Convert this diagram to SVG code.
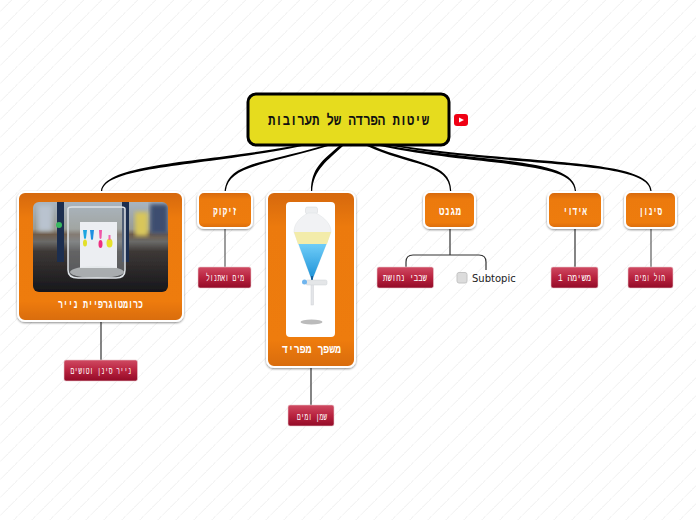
<svg xmlns="http://www.w3.org/2000/svg" width="696" height="520" viewBox="0 0 696 520">
<style>
.he{font-family:"Liberation Mono","DejaVu Sans Mono",monospace;text-anchor:middle;direction:rtl}
.o{fill:url(#og);stroke:#fff;stroke-width:2;filter:url(#sh)}
.r{fill:url(#rg);stroke:#e9c9cf;stroke-width:.6}
.ot{fill:#fff;font-size:12px;font-weight:bold}
.rt{fill:#fff;font-size:10px}
.c{fill:#000}
.l{stroke:#333;stroke-width:1.2;fill:none}
</style>
<defs>
<pattern id="bg" width="18" height="18" patternUnits="userSpaceOnUse">
<path d="M11.7 0L0 11.7M18 11.7L11.7 18" stroke="#e6e6e6" stroke-width="1" stroke-dasharray="1 .5"/>
</pattern>
<linearGradient id="og" x1="0" y1="0" x2="0" y2="1"><stop offset="0" stop-color="#d5680a"/><stop offset=".2" stop-color="#ec7a0c"/><stop offset=".85" stop-color="#ee7b0c"/><stop offset="1" stop-color="#d86c0a"/></linearGradient>
<linearGradient id="rg" x1="0" y1="0" x2="0" y2="1"><stop offset="0" stop-color="#cf4a62"/><stop offset=".5" stop-color="#b9233f"/><stop offset="1" stop-color="#930a27"/></linearGradient>
<linearGradient id="ph" x1="0" y1="0" x2="0" y2="1"><stop offset="0" stop-color="#a8b4c0"/><stop offset=".3" stop-color="#9a9c94"/><stop offset=".36" stop-color="#6e5c4c"/><stop offset=".44" stop-color="#6a6a68"/><stop offset=".55" stop-color="#3d3836"/><stop offset="1" stop-color="#17171b"/></linearGradient>
<linearGradient id="wat" x1="0" y1="0" x2="0" y2="1"><stop offset="0" stop-color="#6fcdf8"/><stop offset="1" stop-color="#1f93d8"/></linearGradient>
<filter id="sh" x="-20%" y="-20%" width="140%" height="140%"><feDropShadow dx="0" dy="1" stdDeviation="1.2" flood-color="#000" flood-opacity=".45"/></filter>
<filter id="bl"><feGaussianBlur stdDeviation="2"/></filter>
<filter id="bl1"><feGaussianBlur stdDeviation=".6"/></filter>
<filter id="bl2"><feGaussianBlur stdDeviation="1.200"/></filter>
<clipPath id="pc"><rect x="33" y="202" width="135" height="90" rx="6"/></clipPath>
</defs>
<rect width="696" height="520" fill="#fff"/>
<rect width="696" height="520" fill="url(#bg)"/>
<g id="connectors">
<path class="c" d="M293 146C200 163 105 163 101 191L102.200 191C106 166 200 167 302 146Z"/>
<path class="c" d="M322 146C260 164 228 163 224.600 191L225.800 191C229 166 262 166 328 146Z"/>
<path class="c" d="M339 146C323 160 311 168 311 191L312.200 191C313 170 328 160 343 146Z"/>
<path class="c" d="M367 146C410 166 449.500 163 450 191L451.200 191C451 162 415 164 373 146Z"/>
<path class="c" d="M380 146C480 167 574 160 574.800 191L576 191C575 158 490 163 390 146Z"/>
<path class="c" d="M392 146C520 168 649 160 650.400 191L651.600 191C650 158 530 165 402 146Z"/>
<path class="l" d="M101 322V360"/>
<path class="l" d="M225 229V267" stroke-opacity=".8"/>
<path class="l" d="M311 368V405"/>
<path class="l" d="M450 229V255M406 270V262Q406 255 413 255H479Q486 255 486 262V270"/>
<path class="l" d="M575 229V267"/>
<path class="l" d="M651 229V267" stroke-opacity=".8"/>
</g>
<g id="root">
<rect x="248" y="94" width="201" height="51" rx="8" fill="#e6dc1e" stroke="#000" stroke-width="3"/>
<text class="he" x="348.500" y="124.500" font-size="15" font-weight="bold" fill="#111" textLength="161" lengthAdjust="spacingAndGlyphs">שיטות הפרדה של תערובות</text>
</g>
<g id="youtube">
<rect x="454" y="114" width="14" height="12" rx="3" fill="#f00014"/>
<path d="M459 117.500L464 120L459 122.500Z" fill="#fff"/>
</g>
<g id="chrom">
<rect class="o" x="18" y="192" width="165" height="129" rx="7"/>
<g clip-path="url(#pc)">
<g filter="url(#bl1)">
<rect x="33" y="202" width="135" height="90" fill="url(#ph)"/>
<rect x="57" y="202" width="7" height="60" fill="#1f2f50"/>
<rect x="122" y="202" width="7" height="60" fill="#1f2f50"/>
<rect x="150" y="204" width="18" height="30" fill="#3c4e70" filter="url(#bl)"/>
<rect x="135" y="212" width="13" height="24" fill="#d8c65a" filter="url(#bl)"/>
<rect x="38" y="205" width="14" height="26" fill="#b9c3cf" filter="url(#bl)"/>
<circle cx="59" cy="225" r="3" fill="#38b860"/>
<path d="M68 209Q68 207 72 207H121Q125 207 125 209V270Q125 278 116 278H78Q68 278 68 270Z" fill="#aeb8be" fill-opacity=".35" stroke="#dfe4e8" stroke-width="1.500"/>
<rect x="80" y="222" width="37" height="46" fill="#eceef2"/>
<path d="M83 230h4l-1 8q-1 2-2 0z" fill="#1ea5e0"/><ellipse cx="85" cy="243" rx="2" ry="3.500" fill="#e2e02a"/>
<path d="M90 230h4l-1 9q-1 2-2 0z" fill="#1c8fe0"/>
<path d="M99 230h3l-.5 8q-1 2-2 0z" fill="#f054a8"/><ellipse cx="100.500" cy="244" rx="2" ry="4" fill="#ee2f80"/>
<ellipse cx="109.500" cy="243" rx="3" ry="4.500" fill="#e8e22c"/><path d="M108.500 235h2v5h-2z" fill="#f068b0"/>
<ellipse cx="97" cy="272" rx="27" ry="6" fill="#dfe4e6" fill-opacity=".6"/>
</g>
</g>
<text class="he ot" x="100.500" y="307.500" textLength="85" lengthAdjust="spacingAndGlyphs">כרומטוגרפיית נייר</text>
</g>
<g id="zikuk">
<rect class="o" x="198" y="192" width="54" height="36" rx="6"/>
<text class="he ot" x="225" y="215" textLength="24" lengthAdjust="spacingAndGlyphs">זיקוק</text>
</g>
<g id="funnel">
<rect class="o" x="267" y="192" width="88" height="175" rx="7"/>
<rect x="286" y="202" width="49" height="135" rx="4" fill="#fff"/>
<g filter="url(#bl1)">
<rect x="305.500" y="207" width="12" height="7" rx="2" fill="#eceef0" stroke="#d2d4d6" stroke-width=".5"/>
<path d="M308 213C299 218 294 224 294 232L311 278H313L331 232C331 224 325 218 316 213Z" fill="#f1f2f4" stroke="#dfe2e5" stroke-width=".5"/>
<path d="M294 232H331L327 244H298Z" fill="#f3ecaa"/>
<path d="M298.500 244H326.500L313 278H311Z" fill="url(#wat)"/>
<path d="M311 276H313V283H311Z" fill="#14609c"/>
<rect x="311" y="284" width="2.500" height="21" fill="#e3e5e8" stroke="#cfd2d6" stroke-width=".5"/>
<rect x="306" y="280" width="21" height="5" rx="1.500" fill="#e4e6e8" stroke="#cfd2d6" stroke-width=".5"/>
<circle cx="304.500" cy="282" r="2.500" fill="#6fb5ee"/>
<ellipse cx="311.500" cy="322" rx="11" ry="2.500" fill="#bbb"/>
</g>
<text class="he ot" x="311.500" y="353" textLength="59" lengthAdjust="spacingAndGlyphs">משפך מפריד</text>
</g>
<g id="magnet">
<rect class="o" x="424" y="192" width="51" height="36" rx="6"/>
<text class="he ot" x="450" y="215" textLength="22" lengthAdjust="spacingAndGlyphs">מגנט</text>
</g>
<g id="iduy">
<rect class="o" x="548" y="192" width="54" height="36" rx="6"/>
<text class="he ot" x="575" y="215" textLength="24" lengthAdjust="spacingAndGlyphs">אידוי</text>
</g>
<g id="sinun">
<rect class="o" x="625" y="192" width="51" height="36" rx="6"/>
<text class="he ot" x="650.500" y="215" textLength="23" lengthAdjust="spacingAndGlyphs">סינון</text>
</g>
<g id="paper"><rect class="r" x="64" y="360" width="73.500" height="21" rx="2"/><text class="he rt" x="101" y="374" textLength="61" lengthAdjust="spacingAndGlyphs">נייר סינן וטושים</text></g>
<g id="water-ethanol"><rect class="r" x="198" y="267" width="53" height="21" rx="2"/><text class="he rt" x="225" y="281" textLength="38" lengthAdjust="spacingAndGlyphs">מים ואתנול</text></g>
<g id="oil-water"><rect class="r" x="288" y="405" width="46" height="21" rx="2"/><text class="he rt" x="312" y="419.500" textLength="30" lengthAdjust="spacingAndGlyphs">שמן ומים</text></g>
<g id="copper"><rect class="r" x="377" y="267" width="56.500" height="21" rx="2"/><text class="he rt" x="405" y="281" textLength="44" lengthAdjust="spacingAndGlyphs">שבבי נחושת</text></g>
<g id="subtopic">
<rect x="457" y="272.500" width="10" height="10.500" rx="2" fill="#dcdcdc" stroke="#c4c4c4"/>
<text x="472" y="282" font-family="'DejaVu Sans',sans-serif" font-size="10" fill="#222">Subtopic</text>
</g>
<g id="task"><rect class="r" x="551" y="267" width="47" height="21" rx="2"/><text class="he rt" x="574.500" y="281" textLength="33" lengthAdjust="spacingAndGlyphs">משימה 1</text></g>
<g id="sand"><rect class="r" x="628" y="267" width="45" height="21" rx="2"/><text class="he rt" x="650" y="281" textLength="30" lengthAdjust="spacingAndGlyphs">חול ומים</text></g>
</svg>
